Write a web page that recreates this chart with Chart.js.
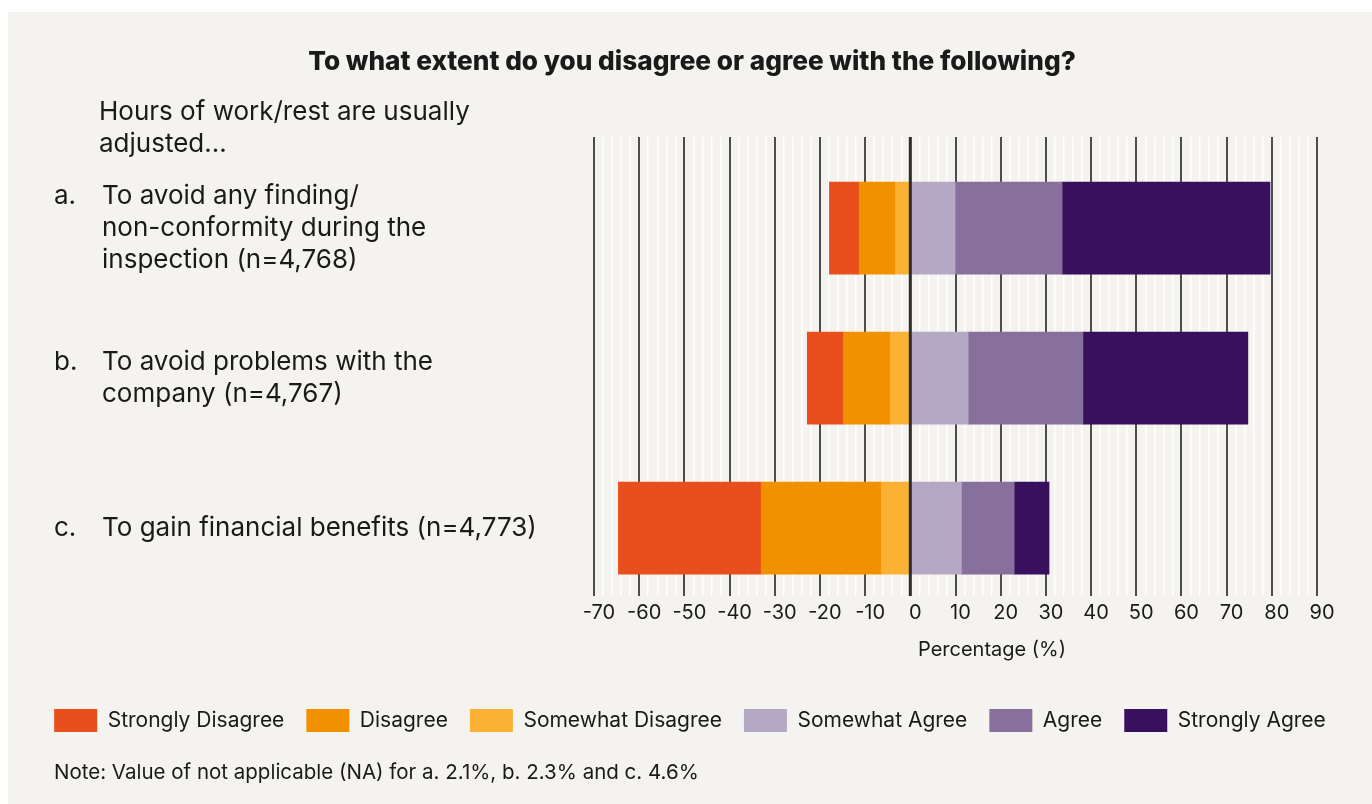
<!DOCTYPE html>
<html>
<head>
<meta charset="utf-8">
<title>Hours of work/rest adjustments</title>
<script src="https://cdn.jsdelivr.net/npm/chart.js@4.4.1/dist/chart.umd.min.js"></script>
<style>
  html, body { margin: 0; padding: 0; background: #ffffff; }
  #wrap { width: 1372px; height: 804px; }
</style>
</head>
<body>
<div id="wrap"><canvas id="surveyChart" width="1372" height="804"></canvas></div>
<script>
// --- Data ---

const categories = ["a.", "b.", "c."];
const categoryLines = [
  ["To avoid any finding/", "non-conformity during the", "inspection (n=4,768)"],
  ["To avoid problems with the", "company (n=4,767)"],
  ["To gain financial benefits (n=4,773)"],
];

const stronglyDisagree = [6.6, 8.0, 31.6];
const disagree = [8.0, 10.4, 26.6];
const somewhatDisagree = [3.3, 4.4, 6.4];
const somewhatAgree = [9.9, 12.8, 11.3];
const agree = [23.7, 25.4, 11.7];
const stronglyAgree = [46.0, 36.5, 7.7];

const tickLabels = [-70, -60, -50, -40, -30, -20, -10, 0, 10, 20, 30, 40, 50, 60, 70, 80, 90];

const FONT = "Inter, 'Noto Sans', sans-serif";
const TEXT = "#1a1a1a";

// negative side stacks outward from 0, so the mildest answer goes first
function toPoints(values, sign) {
  return values.map((v, i) => ({ x: sign * v, y: i }));
}

const datasets = [
  { label: "Somewhat Disagree", data: toPoints(somewhatDisagree, -1), backgroundColor: "#fab134" },
  { label: "Disagree", data: toPoints(disagree, -1), backgroundColor: "#f29100" },
  { label: "Strongly Disagree", data: toPoints(stronglyDisagree, -1), backgroundColor: "#e94f1d" },
  { label: "Somewhat Agree", data: toPoints(somewhatAgree, 1), backgroundColor: "#b5a8c5" },
  { label: "Agree", data: toPoints(agree, 1), backgroundColor: "#87709c" },
  { label: "Strongly Agree", data: toPoints(stronglyAgree, 1), backgroundColor: "#39105e" },
];
datasets.forEach((d) => {
  d.borderWidth = 0;
  d.barThickness = 92;
});

const legendOrder = [2, 1, 0, 3, 4, 5];

// --- Plugin: panel background, texts, zero line ---

const textLayer = {
  id: "textLayer",
  beforeDraw(chart) {
    const ctx = chart.ctx;
    ctx.save();
    ctx.fillStyle = "#ffffff";
    ctx.fillRect(0, 0, chart.width, chart.height);
    ctx.fillStyle = "#f4f3ef";
    ctx.fillRect(8, 12, chart.width - 8, chart.height - 12);
    ctx.restore();
  },
  afterDatasetsDraw(chart) {
    const { ctx, chartArea } = chart;
    const x0 = chart.scales.x.getPixelForValue(0);
    ctx.save();
    ctx.strokeStyle = "#2b2b2b";
    ctx.lineWidth = 3;
    ctx.beginPath();
    ctx.moveTo(x0, chartArea.top);
    ctx.lineTo(x0, chartArea.bottom);
    ctx.stroke();
    ctx.restore();
  },
  afterDraw(chart) {
    const ctx = chart.ctx;
    const yScale = chart.scales.y;
    ctx.save();
    ctx.fillStyle = TEXT;
    ctx.textBaseline = "middle";

    ctx.font = "800 26.2px " + FONT;
    ctx.textAlign = "center";
    ctx.fillText("To what extent do you disagree or agree with the following?", 692, 62);

    ctx.textAlign = "left";
    ctx.font = "26px " + FONT;
    ctx.fillText("Hours of work/rest are usually", 99, 112);
    ctx.fillText("adjusted...", 99, 144);

    categories.forEach((letter, i) => {
      const lines = categoryLines[i];
      const yc = yScale.getPixelForValue(i);
      const first = yc - ((lines.length - 1) * 32) / 2;
      ctx.fillText(letter, 54, first);
      lines.forEach((line, j) => ctx.fillText(line, 102, first + j * 32));
    });

    ctx.font = "20px " + FONT;
    ctx.textAlign = "center";
    ctx.fillText("Percentage (%)", 992, 650);

    ctx.font = "20.5px " + FONT;
    ctx.textAlign = "left";
    ctx.fillText("Note: Value of not applicable (NA) for a. 2.1%, b. 2.3% and c. 4.6%", 54, 773);
    ctx.restore();
  },
};

// --- Chart ---

new Chart(document.getElementById("surveyChart"), {
  type: "bar",
  data: { datasets },
  plugins: [textLayer],
  options: {
    indexAxis: "y",
    responsive: false,
    animation: false,
    layout: { padding: { top: 137, left: 8, right: 0, bottom: 62 } },
    plugins: {
      title: { display: false },
      tooltip: { enabled: false },
      legend: {
        position: "bottom",
        labels: {
          boxWidth: 43,
          boxHeight: 23,
          padding: 22,
          color: TEXT,
          font: { size: 21, family: FONT },
          sort: (a, b) => legendOrder.indexOf(a.datasetIndex) - legendOrder.indexOf(b.datasetIndex),
        },
      },
    },
    scales: {
      x: {
        type: "linear",
        stacked: true,
        min: tickLabels[0],
        max: tickLabels[tickLabels.length - 1],
        border: { display: false },
        grid: {
          drawTicks: false,
          color: (c) => (c.tick && c.tick.value % 10 === 0 ? "#4d4d4d" : "#ffffff"),
          lineWidth: (c) => (c.tick && c.tick.value % 10 === 0 ? 2 : 1.5),
        },
        ticks: {
          stepSize: 2,
          autoSkip: false,
          maxRotation: 0,
          padding: 5,
          labelOffset: 5,
          color: TEXT,
          font: { size: 20, family: FONT },
          callback: (value) => (tickLabels.includes(value) ? value : ""),
        },
        afterFit: (scale) => {
          scale.height = 91;
        },
      },
      y: {
        type: "linear",
        stacked: true,
        reverse: true,
        offset: false,
        min: -0.607,
        max: 2.453,
        position: "left",
        border: { display: false },
        grid: { display: false },
        ticks: { display: false },
        afterFit: (scale) => {
          scale.width = 586;
        },
      },
      yPad: {
        type: "linear",
        position: "right",
        border: { display: false },
        grid: { display: false },
        ticks: { display: false },
        afterFit: (scale) => {
          scale.width = 55;
        },
      },
    },
  },
});
</script>
</body>
</html>
